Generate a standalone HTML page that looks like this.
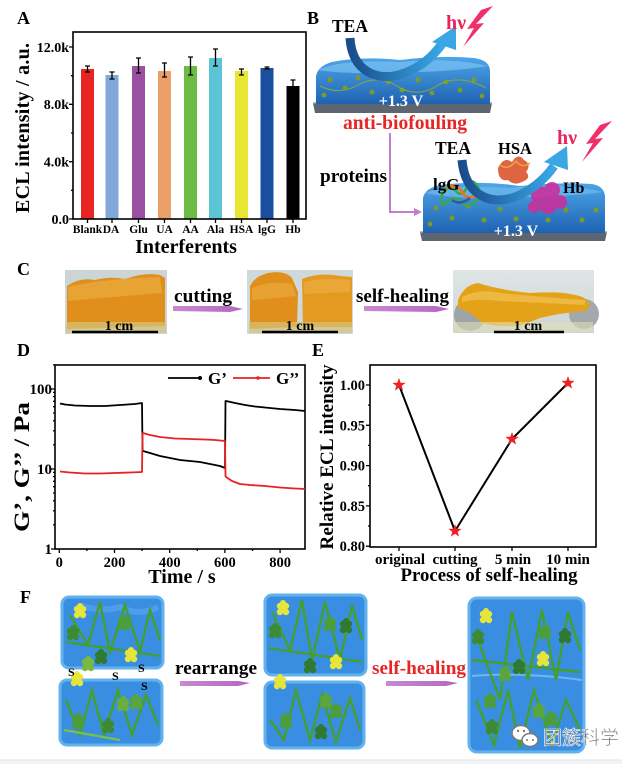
<!DOCTYPE html>
<html><head><meta charset="utf-8"><style>
html,body{margin:0;padding:0;background:#fff;}
svg{display:block;}
text{font-family:"Liberation Serif","Noto Serif CJK SC",serif;font-weight:bold;}
</style></head><body>
<svg width="622" height="764" viewBox="0 0 622 764" xmlns="http://www.w3.org/2000/svg">
<defs>
<polygon id="star" points="0,-7 1.65,-2.27 6.66,-2.16 2.66,0.87 4.11,5.66 0,2.8 -4.11,5.66 -2.66,0.87 -6.66,-2.16 -1.65,-2.27"/>
<g id="cl"><circle cx="-3" cy="-3" r="3.2"/><circle cx="3" cy="-3" r="3.2"/><circle cx="-3" cy="3" r="3.2"/><circle cx="3" cy="3" r="3.2"/><circle cx="0" cy="0" r="3.2"/><circle cx="0" cy="-6" r="3"/></g>
<linearGradient id="slab" x1="0" y1="0" x2="0" y2="1"><stop offset="0" stop-color="#4ea6e8"/><stop offset="1" stop-color="#1f62b2"/></linearGradient>
<linearGradient id="arr" x1="0" y1="0" x2="1" y2="0"><stop offset="0" stop-color="#1a4c8c"/><stop offset="1" stop-color="#38a8e6"/></linearGradient>
<linearGradient id="parr" x1="0" y1="0" x2="1" y2="0"><stop offset="0" stop-color="#c88ad0"/><stop offset="1" stop-color="#b466c0"/></linearGradient>
<linearGradient id="ph3" x1="0" y1="0" x2="0" y2="1"><stop offset="0" stop-color="#dfe6e6"/><stop offset="1" stop-color="#cdd4d4"/></linearGradient>
</defs>

<!-- ================= Panel A ================= -->
<text x="17" y="24" font-size="18">A</text>
<g>
<rect x="81" y="69" width="13" height="150" fill="#e82424"/>
<rect x="105.5" y="75" width="13" height="144" fill="#80a8d8"/>
<rect x="132" y="66" width="13" height="153" fill="#9b4fa0"/>
<rect x="158" y="71" width="13" height="148" fill="#eba06a"/>
<rect x="184" y="66" width="13" height="153" fill="#6cbb45"/>
<rect x="209" y="58" width="13" height="161" fill="#5cc4d4"/>
<rect x="235" y="71" width="13" height="148" fill="#e8e630"/>
<rect x="260.5" y="68" width="13" height="151" fill="#1a4fa0"/>
<rect x="286.5" y="86" width="13" height="133" fill="#000"/>
</g>
<g stroke="#000" stroke-width="1.3" fill="none">
<path d="M87.5,66V72M85,66H90M85,72H90"/>
<path d="M112,72V79M109.5,72H114.5M109.5,79H114.5"/>
<path d="M138.5,58V73M136,58H141M136,73H141"/>
<path d="M164.5,63V77M162,63H167M162,77H167"/>
<path d="M190.5,57V75M188,57H193M188,75H193"/>
<path d="M215.5,49V66M213,49H218M213,66H218"/>
<path d="M241.5,69V75M239,69H244M239,75H244"/>
<path d="M267,67V69M264.5,67H269.5M264.5,69H269.5"/>
<path d="M293,80V90M290.5,80H295.5"/>
</g>
<rect x="73" y="32" width="233" height="187" fill="none" stroke="#000" stroke-width="1.6"/>
<g stroke="#000" stroke-width="1.3">
<path d="M69,219H73M69,161.7H73M69,104.3H73M69,47H73M71,190.3H73M71,133H73M71,75.7H73"/>
<path d="M87.5,219V223M112,219V223M138.5,219V223M164.5,219V223M190.5,219V223M215.5,219V223M241.5,219V223M267,219V223M293,219V223"/>
</g>
<g font-size="14" text-anchor="end">
<text x="69" y="224">0.0</text>
<text x="69" y="166.5">4.0k</text>
<text x="69" y="109">8.0k</text>
<text x="69" y="52">12.0k</text>
</g>
<g font-size="11.5" text-anchor="middle">
<text x="87.5" y="233">Blank</text><text x="111" y="233">DA</text><text x="138.5" y="233">Glu</text>
<text x="164.5" y="233">UA</text><text x="190.5" y="233">AA</text><text x="215.5" y="233">Ala</text>
<text x="241.5" y="233">HSA</text><text x="267" y="233">lgG</text><text x="293" y="233">Hb</text>
</g>
<text x="186" y="253" font-size="20" text-anchor="middle">Interferents</text>
<text transform="translate(29,128) rotate(-90)" font-size="20" text-anchor="middle" textLength="170" lengthAdjust="spacing">ECL intensity / a.u.</text>

<!-- ================= Panel B ================= -->
<text x="307" y="24" font-size="18">B</text>
<polygon points="313,103 492,103 490,113 315,113" fill="#5c6570"/>
<path d="M313,103H492" stroke="#9aa3ad" stroke-width="1.5"/>
<path d="M316,104 L316,76 Q318,66 332,62 Q362,56 400,60 Q440,55 474,58 Q489,60 490,70 L490,104 Z" fill="url(#slab)"/>
<path d="M318,70 Q340,59 400,62 Q450,57 488,66 Q440,73 400,72 Q350,75 318,70 Z" fill="#79c2f2" opacity="0.7"/>
<g fill="#7a9a2a">
<circle cx="330" cy="80" r="2.5"/><circle cx="345" cy="88" r="2.5"/><circle cx="358" cy="78" r="2.5"/><circle cx="372" cy="92" r="2.5"/><circle cx="388" cy="82" r="2.5"/><circle cx="402" cy="90" r="2.5"/><circle cx="418" cy="80" r="2.5"/><circle cx="432" cy="93" r="2.5"/><circle cx="446" cy="82" r="2.5"/><circle cx="460" cy="90" r="2.5"/><circle cx="474" cy="80" r="2.5"/><circle cx="324" cy="95" r="2.5"/><circle cx="482" cy="96" r="2.5"/>
</g>
<path d="M320,86 Q340,96 360,84 Q380,74 400,88 Q420,98 440,84 Q460,74 486,88" stroke="#86a83a" stroke-width="1" fill="none"/>
<text x="401" y="106" font-size="16" fill="#fff" text-anchor="middle">+1.3 V</text>
<path d="M350,38 C352,72 378,82 402,74 C422,67 433,56 442,44" stroke="url(#arr)" stroke-width="9" fill="none"/>
<polygon points="432,42 456,50 456,26" fill="#3aa6e4"/>
<text x="332" y="32" font-size="17.5">TEA</text>
<text x="446" y="29" font-size="20" fill="#e8245a">hν</text>
<polygon points="493,6 476,24 484,23 463,47 474,28 467,29 481,10" fill="#f0306a"/>
<text x="405" y="129" font-size="19.6" fill="#e82424" text-anchor="middle" textLength="124" lengthAdjust="spacingAndGlyphs">anti-biofouling</text>
<path d="M390,133 V212 H416" stroke="#c07fc8" stroke-width="2" fill="none"/>
<polygon points="414,208 422,212 414,216" fill="#c07fc8"/>
<text x="320" y="182" font-size="19" textLength="67" lengthAdjust="spacingAndGlyphs">proteins</text>
<polygon points="420,232 607,232 605,241 422,241" fill="#5c6570"/>
<path d="M420,232H607" stroke="#9aa3ad" stroke-width="1.5"/>
<path d="M423,233 L423,198 Q425,188 440,185 Q480,180 520,186 Q560,182 592,184 Q604,186 605,196 L605,233 Z" fill="url(#slab)"/>
<path d="M425,193 Q450,184 510,188 Q560,182 603,192 Q560,198 510,197 Q460,200 425,193 Z" fill="#79c2f2" opacity="0.6"/>
<g fill="#7a9a2a">
<circle cx="436" cy="208" r="2.5"/><circle cx="452" cy="218" r="2.5"/><circle cx="468" cy="206" r="2.5"/><circle cx="484" cy="220" r="2.5"/><circle cx="500" cy="209" r="2.5"/><circle cx="516" cy="219" r="2.5"/><circle cx="532" cy="208" r="2.5"/><circle cx="548" cy="220" r="2.5"/><circle cx="566" cy="210" r="2.5"/><circle cx="582" cy="220" r="2.5"/><circle cx="596" cy="210" r="2.5"/><circle cx="430" cy="224" r="2.5"/>
</g>
<text x="516" y="236" font-size="16" fill="#fff" text-anchor="middle">+1.3 V</text>
<path d="M442,195 q6,-12 14,-4 q6,8 12,-6 q4,-8 10,2 q4,10 -4,16 q-8,6 -14,-2 q-6,-6 -14,2 q-6,6 -4,-8z" fill="none" stroke="#3aa84a" stroke-width="2.5"/>
<path d="M446,188 q10,-6 16,4 q6,10 16,2" fill="none" stroke="#e07a20" stroke-width="3"/>
<path d="M452,200 q8,6 18,-2" fill="none" stroke="#2a5ab0" stroke-width="2.5"/>
<path d="M498,168 q6,-12 14,-6 q6,-10 12,-2 q8,4 2,12 q6,6 -4,10 q-8,4 -14,-2 q-10,2 -10,-12z" fill="#d84a20" opacity="0.85"/>
<path d="M500,165 q8,6 16,-4 q6,8 14,2" fill="none" stroke="#f0a040" stroke-width="1.5"/>
<g fill="#c8309c" opacity="0.9">
<circle cx="540" cy="195" r="9"/><circle cx="552" cy="190" r="8"/><circle cx="548" cy="205" r="9"/><circle cx="534" cy="207" r="6"/><circle cx="560" cy="202" r="7"/>
</g>
<path d="M462,160 C465,195 490,206 515,197 C535,189 547,176 554,166" stroke="url(#arr)" stroke-width="9" fill="none"/>
<polygon points="544,162 568,170 567,146" fill="#3aa6e4"/>
<text x="435" y="154" font-size="17.5">TEA</text>
<text x="498" y="154" font-size="16.5">HSA</text>
<text x="557" y="144" font-size="20" fill="#e8245a">hν</text>
<polygon points="612,121 595,139 603,138 582,162 593,143 586,144 600,125" fill="#f0306a"/>
<text x="433" y="190" font-size="17">lgG</text>
<text x="563" y="193" font-size="16">Hb</text>

<!-- ================= Panel C ================= -->
<text x="17" y="275" font-size="18">C</text>
<rect x="65" y="270" width="102" height="64" fill="#cbd5d8"/>
<path d="M67,286 Q80,277 95,280 Q110,276 125,279 Q145,272 160,275 L165,278 L165,326 L67,329 Z" fill="#e0901a"/>
<path d="M68,287 Q100,279 160,277 L162,293 Q110,297 68,301 Z" fill="#efb24c" opacity="0.55"/>
<rect x="66" y="322" width="100" height="11" fill="#d6c37a" opacity="0.75"/>
<line x1="72" y1="332" x2="158" y2="332" stroke="#000" stroke-width="2.5"/>
<text x="119" y="330" font-size="14" text-anchor="middle">1 cm</text>
<polygon points="173,306 230,306 243,309 230,312 173,311" fill="url(#parr)"/>
<text x="174" y="302" font-size="19" textLength="58" lengthAdjust="spacingAndGlyphs">cutting</text>
<rect x="247" y="270" width="106" height="64" fill="#cfd8da"/>
<path d="M250,286 Q255,276 268,273 Q285,270 292,278 L298,292 L297,327 L250,329 Z" fill="#e0901a"/>
<path d="M302,279 Q320,272 340,276 L352,277 L352,327 L303,327 Z" fill="#e49a20"/>
<path d="M252,288 Q270,280 292,284 L296,296 L252,300Z M304,282 Q325,277 350,280 L350,292 L304,294Z" fill="#efb24c" opacity="0.5"/>
<rect x="249" y="322" width="103" height="11" fill="#d6c37a" opacity="0.7"/>
<line x1="262" y1="332" x2="338" y2="332" stroke="#000" stroke-width="2.5"/>
<text x="300" y="330" font-size="14" text-anchor="middle">1 cm</text>
<polygon points="364,306 436,306 449,309 436,312 364,311" fill="url(#parr)"/>
<text x="356" y="302" font-size="19" textLength="93" lengthAdjust="spacingAndGlyphs">self-healing</text>
<rect x="453" y="270" width="141" height="63" fill="url(#ph3)"/>
<ellipse cx="470" cy="315" rx="16" ry="16" fill="#9ea3a8"/>
<ellipse cx="584" cy="314" rx="15" ry="15" fill="#a4a8ac"/>
<path d="M458,300 Q464,285 478,283 Q500,290 530,293 Q560,291 575,295 Q588,297 590,306 L585,311 Q560,313 540,318 L520,326 Q495,327 482,323 Q470,311 458,308 Z" fill="#e4a218"/>
<path d="M462,297 Q480,288 500,293 Q540,297 585,300 L585,305 Q540,303 500,301 Q480,298 462,302Z" fill="#f3c860" opacity="0.6"/>
<rect x="454" y="322" width="139" height="10" fill="#e0ddb4" opacity="0.6"/>
<line x1="494" y1="332" x2="564" y2="332" stroke="#000" stroke-width="2.5"/>
<text x="528" y="330" font-size="14" text-anchor="middle">1 cm</text>

<!-- ================= Panel D ================= -->
<text x="17" y="356" font-size="18">D</text>
<rect x="55" y="365" width="250" height="184" fill="none" stroke="#000" stroke-width="1.6"/>
<g stroke="#000" stroke-width="1.3">
<path d="M51,549H55M51,469H55M51,389H55"/>
<path d="M53,524.9H55M53,510.8H55M53,500.8H55M53,493H55M53,486.7H55M53,481.3H55M53,476.6H55M53,472.4H55M53,444.9H55M53,430.8H55M53,420.8H55M53,413H55M53,406.7H55M53,401.3H55M53,396.6H55M53,392.4H55M53,364.9H55"/>
<path d="M59.3,549V553M114.5,549V553M169.7,549V553M224.9,549V553M280.1,549V553M86.9,549V551M142.1,549V551M197.3,549V551M252.5,549V551"/>
</g>
<g font-size="15" text-anchor="end">
<text x="52" y="554">1</text><text x="52" y="474">10</text><text x="52" y="394">100</text>
</g>
<g font-size="14.5" text-anchor="middle">
<text x="59.3" y="567">0</text><text x="114.5" y="567">200</text><text x="169.7" y="567">400</text><text x="224.9" y="567">600</text><text x="280.1" y="567">800</text>
</g>
<text x="182" y="583" font-size="20" text-anchor="middle">Time / s</text>
<text transform="translate(29,467) rotate(-90)" font-size="22" text-anchor="middle" textLength="130" lengthAdjust="spacingAndGlyphs">G’, G’’ / Pa</text>
<g fill="none" stroke-width="1.8" stroke-linejoin="round">
<polyline stroke="#000" points="60,403.5 65,404.5 75,405.5 90,406 105,406 120,405 135,404 142,403 142.5,450 143,451 150,453 160,456 170,458 180,460 190,461 200,462 210,464 220,466 225,468 225.5,401 226,401 235,403 245,405 255,406.5 265,407.5 280,409 295,410 305,411"/>
<polyline stroke="#e82020" points="60,471.5 70,472.5 85,473.5 100,473.5 115,473 130,472.5 142,472 142.5,433 143,433 150,435 160,437 175,438.5 190,439 205,439.5 215,440 225,441 225.5,476 226,477 232,481 240,484 250,485 265,486 280,487.5 295,488.5 305,489"/>
</g>
<line x1="168" y1="378" x2="201" y2="378" stroke="#000" stroke-width="1.8"/>
<circle cx="200" cy="378" r="2" fill="#000"/>
<text x="208" y="384" font-size="17">G’</text>
<line x1="233" y1="378" x2="270" y2="378" stroke="#e82020" stroke-width="1.8"/>
<circle cx="258" cy="378" r="1.8" fill="#e82020"/>
<text x="276" y="384" font-size="17">G’’</text>

<!-- ================= Panel E ================= -->
<text x="312" y="356" font-size="18">E</text>
<rect x="370" y="365" width="226" height="182" fill="none" stroke="#000" stroke-width="1.6"/>
<g stroke="#000" stroke-width="1.3">
<path d="M366,385H370M366,425.3H370M366,465.6H370M366,505.9H370M366,546.2H370M368,405.1H370M368,445.4H370M368,485.7H370M368,526H370"/>
<path d="M399,547V551M455,547V551M512,547V551M568,547V551"/>
</g>
<g font-size="14.5" text-anchor="end">
<text x="365" y="390">1.00</text><text x="365" y="430.3">0.95</text><text x="365" y="470.6">0.90</text><text x="365" y="510.9">0.85</text><text x="365" y="551">0.80</text>
</g>
<g font-size="15" text-anchor="middle">
<text x="400" y="564">original</text><text x="455" y="564">cutting</text><text x="513" y="564">5 min</text><text x="568" y="564">10 min</text>
</g>
<text x="489" y="581" font-size="19" text-anchor="middle" textLength="177" lengthAdjust="spacingAndGlyphs">Process of self-healing</text>
<text transform="translate(333,457) rotate(-90)" font-size="19" text-anchor="middle" textLength="185" lengthAdjust="spacingAndGlyphs">Relative ECL intensity</text>
<polyline points="399,385 455,531 512,439 568,383" fill="none" stroke="#000" stroke-width="2"/>
<g fill="#f02020">
<use href="#star" x="399" y="385"/><use href="#star" x="455" y="531"/><use href="#star" x="512" y="439"/><use href="#star" x="568" y="383"/>
</g>

<!-- ================= Panel F ================= -->
<text x="20" y="603" font-size="18">F</text>
<g>
<rect x="62" y="597" width="101" height="71" rx="7" fill="#3a8ee2" stroke="#62b2ee" stroke-width="3"/>
<path d="M80,605 q20,8 40,2 q20,10 38,0" stroke="#5aa8ee" stroke-width="6" fill="none" opacity="0.6"/>
<polyline points="70,615 88,645 100,602 110,652 125,605 140,652 150,610 160,640" stroke="#44a02c" stroke-width="2.4" fill="none"/>
<line x1="66" y1="642" x2="160" y2="656" stroke="#44a02c" stroke-width="2.4"/>
<use href="#cl" x="80" y="612" fill="#e6e63a"/><use href="#cl" x="73" y="634" fill="#3d8a34"/>
<use href="#cl" x="124" y="624" fill="#4c9e3a"/><use href="#cl" x="131" y="656" fill="#e6e63a"/>
<use href="#cl" x="101" y="658" fill="#2f7a30"/><use href="#cl" x="88" y="665" fill="#7ab840"/>
<rect x="60" y="680" width="102" height="65" rx="7" fill="#3a8ee2" stroke="#62b2ee" stroke-width="3"/>
<polyline points="66,700 80,735 92,690 104,735 118,690 132,735 146,695 158,725" stroke="#44a02c" stroke-width="2.4" fill="none"/>
<line x1="64" y1="730" x2="120" y2="740" stroke="#7ac04a" stroke-width="2.4"/>
<use href="#cl" x="78" y="722" fill="#4c9e3a"/><use href="#cl" x="108" y="727" fill="#3d8a34"/>
<use href="#cl" x="123" y="705" fill="#6aae40"/><use href="#cl" x="136" y="703" fill="#5aa63c"/>
<use href="#cl" x="77" y="680" fill="#e6e63a"/>
<text x="68" y="676" font-size="12">S</text><text x="112" y="680" font-size="12">S</text><text x="138" y="672" font-size="12">S</text><text x="141" y="690" font-size="12">S</text>
<polygon points="180,681 238,681 250,683 238,686 180,686" fill="url(#parr)"/>
<text x="175" y="674" font-size="19" textLength="82" lengthAdjust="spacingAndGlyphs">rearrange</text>
<rect x="265" y="595" width="101" height="80" rx="7" fill="#3a8ee2" stroke="#62b2ee" stroke-width="3"/>
<polyline points="272,612 290,650 302,600 312,660 325,602 340,660 352,605 362,640" stroke="#44a02c" stroke-width="2.4" fill="none"/>
<line x1="268" y1="648" x2="362" y2="662" stroke="#44a02c" stroke-width="2.4"/>
<use href="#cl" x="283" y="609" fill="#e6e63a"/><use href="#cl" x="275" y="632" fill="#3d8a34"/>
<use href="#cl" x="330" y="625" fill="#4c9e3a"/><use href="#cl" x="346" y="627" fill="#2f7a30"/>
<use href="#cl" x="336" y="663" fill="#e6e63a"/><use href="#cl" x="310" y="667" fill="#2f7a30"/>
<rect x="265" y="682" width="99" height="66" rx="7" fill="#3a8ee2" stroke="#62b2ee" stroke-width="3"/>
<polyline points="270,720 284,740 296,690 310,740 322,695 336,742 350,698 360,730" stroke="#44a02c" stroke-width="2.4" fill="none"/>
<use href="#cl" x="286" y="722" fill="#4c9e3a"/><use href="#cl" x="326" y="702" fill="#5aa63c"/>
<use href="#cl" x="336" y="712" fill="#4c9e3a"/><use href="#cl" x="321" y="733" fill="#2f7a30"/>
<use href="#cl" x="280" y="683" fill="#e6e63a"/>
<polygon points="386,681 446,681 458,683 446,686 386,686" fill="url(#parr)"/>
<text x="372" y="674" font-size="19" fill="#e82424" textLength="94" lengthAdjust="spacingAndGlyphs">self-healing</text>
<rect x="469" y="598" width="115" height="154" rx="8" fill="#3a8ee2" stroke="#62b2ee" stroke-width="3"/>
<path d="M472,676 Q520,672 582,680" stroke="#6fb6ee" stroke-width="2" fill="none"/>
<polyline points="478,640 500,700 512,612 528,680 542,610 556,680 568,612 580,650" stroke="#44a02c" stroke-width="2.4" fill="none"/>
<polyline points="476,700 494,745 508,690 520,748 534,690 552,745 566,700 580,730" stroke="#44a02c" stroke-width="2.4" fill="none"/>
<line x1="472" y1="660" x2="580" y2="672" stroke="#44a02c" stroke-width="2.4"/>
<use href="#cl" x="486" y="617" fill="#e6e63a"/><use href="#cl" x="478" y="638" fill="#3d8a34"/>
<use href="#cl" x="545" y="633" fill="#4c9e3a"/><use href="#cl" x="565" y="637" fill="#2f7a30"/>
<use href="#cl" x="543" y="660" fill="#e6e63a"/><use href="#cl" x="519" y="668" fill="#2f7a30"/>
<use href="#cl" x="505" y="675" fill="#5aa63c"/><use href="#cl" x="490" y="702" fill="#4c9e3a"/>
<use href="#cl" x="539" y="712" fill="#5aa63c"/><use href="#cl" x="551" y="720" fill="#4c9e3a"/>
<use href="#cl" x="492" y="728" fill="#3d8a34"/>
</g>
<g fill="#fff" stroke="#7a7a7a" stroke-width="1.5">
<ellipse cx="521" cy="733" rx="9" ry="7.5"/>
<ellipse cx="530" cy="740" rx="8" ry="6.5"/>
</g>
<g fill="#7a7a7a"><circle cx="518" cy="731" r="1.2"/><circle cx="524" cy="731" r="1.2"/><circle cx="527" cy="740" r="1"/><circle cx="533" cy="740" r="1"/></g>
<text x="543" y="744" font-size="19" fill="#707070" stroke="#fff" stroke-width="0.6" style="font-family:'Noto Sans CJK SC','WenQuanYi Zen Hei',sans-serif;font-weight:normal">团簇科学</text>
<rect x="0" y="760" width="622" height="4" fill="#f2f3f4"/>
<line x1="0" y1="760" x2="622" y2="760" stroke="#e2e4e6" stroke-width="1"/>
</svg>
</body></html>
